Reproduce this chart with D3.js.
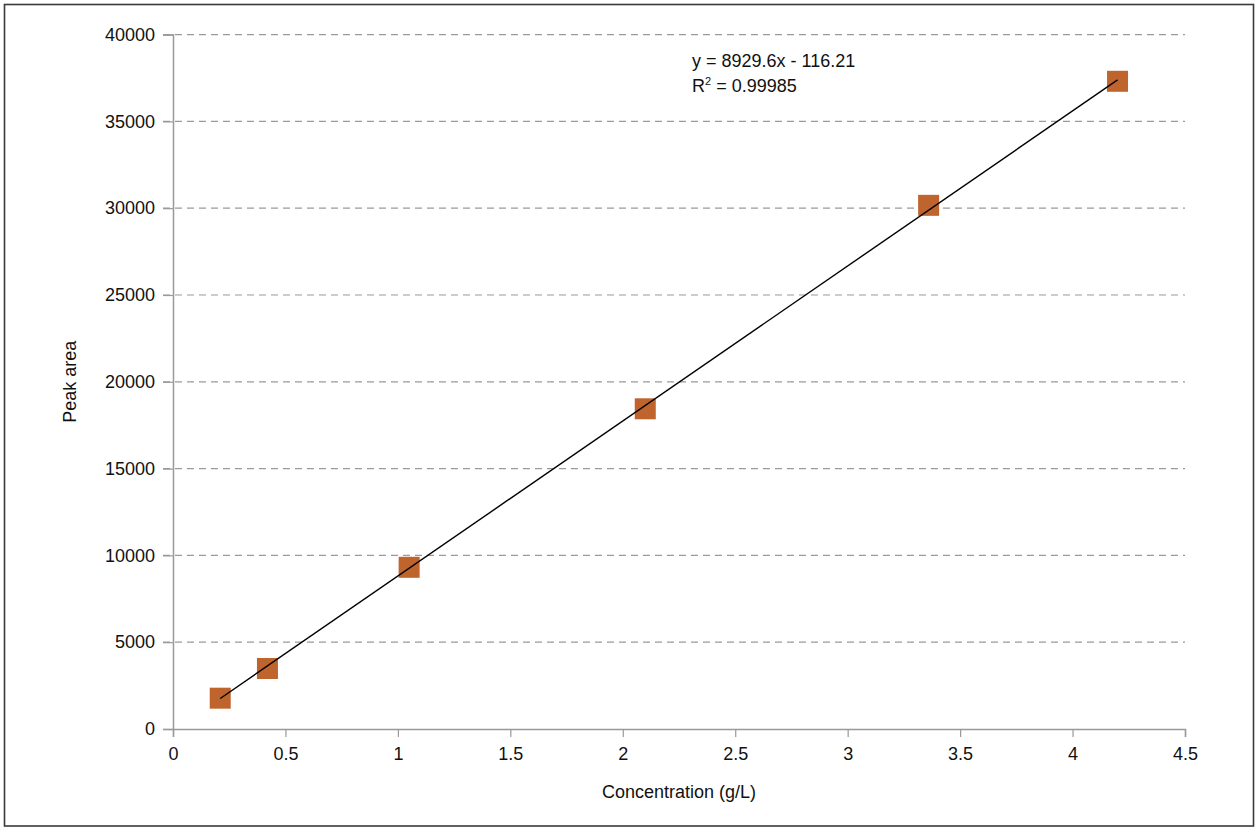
<!DOCTYPE html>
<html>
<head>
<meta charset="utf-8">
<script src="https://cdn.jsdelivr.net/npm/d3@7"></script>
<style>
  html, body { margin: 0; padding: 0; background: #fff; }
  svg { display: block; }
  text { font-family: "Liberation Sans", Arial, sans-serif; fill: #111; }
</style>
</head>
<body>
<script>
// ---- data ----
const concentrations = [0.21, 0.42, 1.05, 2.1, 3.36, 4.2];
const peakAreas = [1775, 3485, 9315, 18445, 30165, 37310];
const xTicks = [0, 0.5, 1, 1.5, 2, 2.5, 3, 3.5, 4, 4.5];
const yTicks = [0, 5000, 10000, 15000, 20000, 25000, 30000, 35000, 40000];
const slope = 8929.6;
const intercept = -116.21;
const equationText = "y = 8929.6x - 116.21";
const r2Value = "0.99985";
const xLabel = "Concentration (g/L)";
const yLabel = "Peak area";

// ---- layout ----
const W = 1260, H = 831;
const plot = { left: 173, right: 1185, top: 34.6, bottom: 729 };
const FS = 18;

const svg = d3.select("body").append("svg").attr("width", W).attr("height", H);

// outer border
svg.append("rect")
  .attr("x", 4.5).attr("y", 4.5).attr("width", 1249).attr("height", 821.5)
  .attr("fill", "#fff").attr("stroke", "#3a3a3a").attr("stroke-width", 1.6);

const x = d3.scaleLinear().domain([0, 4.5]).range([plot.left, plot.right]);
const y = d3.scaleLinear().domain([0, 40000]).range([plot.bottom, plot.top]);

// gridlines (dashed, extending left as ticks)
svg.append("g").selectAll("line").data(yTicks.filter(d => d > 0)).join("line")
  .attr("x1", plot.left - 10).attr("x2", plot.right)
  .attr("y1", d => y(d)).attr("y2", d => y(d))
  .attr("stroke", "#9a9a9a").attr("stroke-width", 1.2)
  .attr("stroke-dasharray", "7,5");

// y axis
const yAxis = svg.append("g").attr("transform", `translate(${plot.left},0)`)
  .call(d3.axisLeft(y).tickValues(yTicks).tickFormat(d3.format("d")).tickSize(10).tickPadding(8));
yAxis.select(".domain").attr("stroke", "#999").attr("stroke-width", 1.5);
yAxis.selectAll(".tick line").attr("stroke", "#999").attr("stroke-width", 1.2);
yAxis.selectAll(".tick text").attr("font-size", FS).attr("fill", "#111")
  .style("font-family", '"Liberation Sans", Arial, sans-serif');

// x axis
const xAxis = svg.append("g").attr("transform", `translate(0,${plot.bottom})`)
  .call(d3.axisBottom(x).tickValues(xTicks).tickFormat(d => d3.format("")(d)).tickSize(8).tickPadding(10));
xAxis.select(".domain").attr("stroke", "#999").attr("stroke-width", 1.5);
xAxis.selectAll(".tick line").attr("stroke", "#999").attr("stroke-width", 1.2);
xAxis.selectAll(".tick text").attr("font-size", FS).attr("fill", "#111")
  .style("font-family", '"Liberation Sans", Arial, sans-serif');

// markers
const S = 21;
const pts = concentrations.map((c, i) => ({ c, v: peakAreas[i] }));
svg.append("g").selectAll("rect").data(pts).join("rect")
  .attr("x", d => x(d.c) - S / 2).attr("y", d => y(d.v) - S / 2)
  .attr("width", S).attr("height", S)
  .attr("fill", "#c0642e");

// trendline on top of markers
const xMin = d3.min(concentrations), xMax = d3.max(concentrations);
svg.append("line")
  .attr("x1", x(xMin)).attr("y1", y(slope * xMin + intercept))
  .attr("x2", x(xMax)).attr("y2", y(slope * xMax + intercept))
  .attr("stroke", "#000").attr("stroke-width", 1.4);

// equation
svg.append("text").attr("x", 692).attr("y", 67).attr("font-size", FS).text(equationText);
const r2 = svg.append("text").attr("x", 692).attr("y", 92).attr("font-size", FS);
r2.append("tspan").text("R");
r2.append("tspan").attr("font-size", 11).attr("dy", -7).text("2");
r2.append("tspan").attr("dy", 7).text(" = " + r2Value);

// axis labels
svg.append("text").attr("x", (plot.left + plot.right) / 2).attr("y", 798)
  .attr("text-anchor", "middle").attr("font-size", FS).text(xLabel);
svg.append("text")
  .attr("transform", `translate(76,${(plot.top + plot.bottom) / 2}) rotate(-90)`)
  .attr("text-anchor", "middle").attr("font-size", FS).text(yLabel);
</script>
</body>
</html>
